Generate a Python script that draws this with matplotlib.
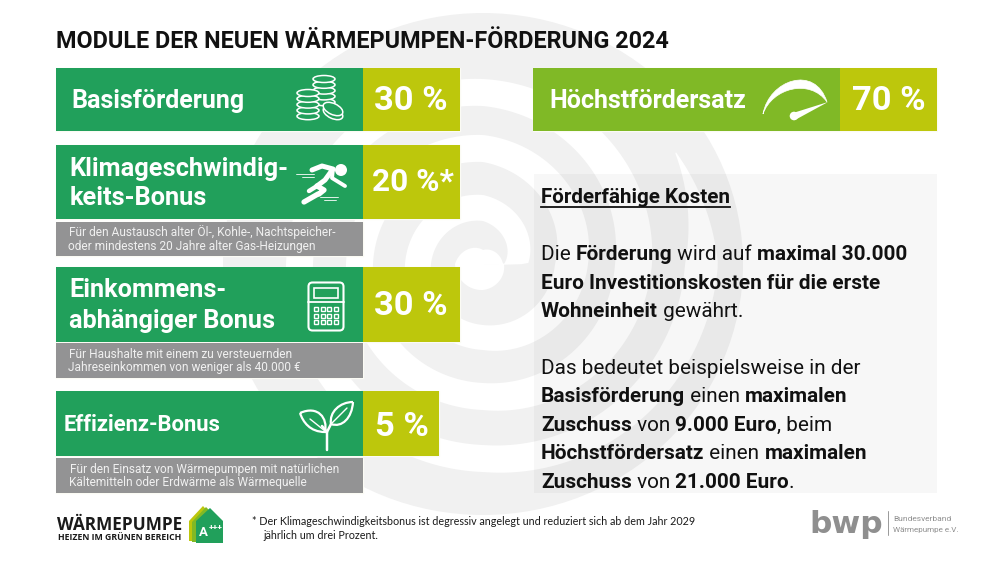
import numpy as np
import matplotlib
matplotlib.use("Agg")
import matplotlib.pyplot as plt
from matplotlib.patches import Rectangle, Circle, Ellipse, FancyBboxPatch, Polygon, PathPatch
from matplotlib.path import Path

# Texts and values
title = "MODULE DER NEUEN WÄRMEPUMPEN-FÖRDERUNG 2024"
module_labels = [["Basisförderung"],
                 ["Klimageschwindig-", "keits-Bonus"],
                 ["Einkommens-", "abhängiger Bonus"],
                 ["Effizienz-Bonus"],
                 ["Höchstfördersatz"]]
module_values = [30, 20, 30, 5, 70]
module_suffix = [" %", " %*", " %", " %", " %"]
notes = [["Für den Austausch alter Öl-, Kohle-, Nachtspeicher-", "oder mindestens 20 Jahre alter Gas-Heizungen"],
         ["Für Haushalte mit einem zu versteuernden", "Jahreseinkommen von weniger als 40.000 €"],
         ["Für den Einsatz von Wärmepumpen mit natürlichen", "Kältemitteln oder Erdwärme als Wärmequelle"]]
heading = "Förderfähige Kosten"
# (text, bold) runs per line
body = [[("Die ", 0), ("Förderung", 1), (" wird auf ", 0), ("maximal 30.000", 1)],
        [("Euro Investitionskosten für die erste", 1)],
        [("Wohneinheit", 1), (" gewährt.", 0)],
        [("Das bedeutet beispielsweise in der", 0)],
        [("Basisförderung", 1), (" einen ", 0), ("maximalen", 1)],
        [("Zuschuss", 1), (" von ", 0), ("9.000 Euro", 1), (", beim", 0)],
        [("Höchstfördersatz", 1), (" einen ", 0), ("maximalen", 1)],
        [("Zuschuss", 1), (" von ", 0), ("21.000 Euro", 1), (".", 0)]]
footnote = ["* Der Klimageschwindigkeitsbonus ist degressiv angelegt und reduziert sich ab dem Jahr 2029",
            "jährlich um drei Prozent."]

GREEN = "#21a05b"
OLIVE = "#bdc70c"
LIME = "#80b926"
GREY = "#939394"
RING = "#f1f1f1"
WHITE = "white"

plt.rcParams["font.family"] = "Roboto"

fig = plt.figure(figsize=(10, 5.62), dpi=100)
ax = fig.add_axes([0, 0, 1, 1])
ax.set_xlim(0, 1000)
ax.set_ylim(562, 0)
ax.axis("off")

# Background spiral: grey disc with a white band winding over it
cx, cy = 483, 264
ax.add_patch(Ellipse((cx, cy), 520, 502, color=RING, lw=0, zorder=0))
sp_t = [-360, -270, -180, -90, -1, 0, 90, 180, 270, 360, 450, 540, 630, 720, 810, 900, 990, 1080, 1110]
sp_in = [0, 0, 0, 0, 0, 21, 43, 52, 61, 72, 102, 110, 119, 132, 158, 170, 181, 202, 222]
sp_out = [20, 14, 28, 26, 21, 45, 69, 78, 86, 105, 129, 137, 146, 169, 185, 197, 208, 235, 223]
t = np.linspace(-360, 1110, 900)
ri = np.interp(t, sp_t, sp_in)
ro = np.interp(t, sp_t, sp_out)
a = np.radians(t)
sx = np.r_[cx + ro * np.cos(a), (cx + ri * np.cos(a))[::-1]]
sy = np.r_[cy - ro * np.sin(a), (cy - ri * np.sin(a))[::-1]]
ax.fill(sx, sy, color=WHITE, lw=0, zorder=0.5)

renderer = fig.canvas.get_renderer()


def box(x0, y0, x1, y1, color):
    # pale halo goes under all the fills so neighbours share no seam
    ax.add_patch(Rectangle((x0, y0), x1 - x0, y1 - y0, facecolor="none", edgecolor="#fbfbf4", lw=1, zorder=1.5))
    ax.add_patch(Rectangle((x0, y0), x1 - x0, y1 - y0, facecolor=color, lw=0, zorder=2))


def label(x, y, s, size, weight="bold", color=WHITE, **kw):
    return ax.text(x, y, s, fontsize=size, fontweight=weight, color=color, va="baseline", zorder=5, **kw)


# Panel on the right
ax.add_patch(Rectangle((534, 174), 403, 319, facecolor=(0, 0, 0, 0.03), lw=0, zorder=1))

label(56, 48.5, title, 16.8, color="#111111")

# Module bars
box(56, 68, 363, 131, GREEN)
box(363, 68, 460, 131, OLIVE)
box(56, 145, 363, 219, GREEN)
box(363, 145, 460, 219, OLIVE)
box(56, 267, 363, 342, GREEN)
box(363, 267, 460, 342, OLIVE)
box(56, 391, 363, 456, GREEN)
box(363, 391, 439, 456, OLIVE)
box(533, 68, 840, 131, LIME)
box(840, 68, 937, 131, OLIVE)
box(56, 222, 363, 256, GREY)
box(56, 343, 363, 378, GREY)
box(56, 458, 363, 493, GREY)

label(71, 108, module_labels[0][0], 18)
label(69, 176, module_labels[1][0], 18.3)
label(70, 205, module_labels[1][1], 18.3)
label(69, 297, module_labels[2][0], 18.2)
label(69, 328, module_labels[2][1], 18.2)
label(64, 431, module_labels[3][0], 15.8)
label(549, 108, module_labels[4][0], 18)

for (x, y), v, suf in zip([(411, 110), (413, 191), (411, 315), (402, 436), (889, 110)], module_values, module_suffix):
    label(x, y, f"{v}{suf}", 24.8 if suf == " %" else 22.7, ha="center")

for lines, ys, xs in zip(notes, [(236, 250), (358, 371), (473, 486)], [(69, 68), (69, 68), (70, 69)]):
    for s, y, x in zip(lines, ys, xs):
        label(x, y, s, 8.55, weight="normal", color="#f0f0f0")

# Text panel
t_h = label(541, 203, heading, 14.9, color="#111111")
ext = t_h.get_window_extent(renderer)
ax.plot([541, 541 + ext.width], [206.5, 206.5], color="#111111", lw=1.3, zorder=5)

body_y = [260, 289, 317, 374, 402, 431, 459, 488]
for runs, y in zip(body, body_y):
    x = 541
    for s, b in runs:
        tx = label(x, y, s, 14.95, weight="bold" if b else "normal", color="#111111")
        x += tx.get_window_extent(renderer).width


def line(xs, ys, lw=1.4, color=WHITE, z=6):
    ax.plot(xs, ys, color=color, lw=lw, solid_capstyle="round", zorder=z)


def coin_stack(x, top, n, w, h, step):
    for i in range(n - 1, -1, -1):
        ax.add_patch(Ellipse((x, top + i * step), w, h, facecolor=GREEN, edgecolor=WHITE, lw=1.1, zorder=6))


# Coins
coin_stack(324, 79, 5, 22, 7, 5.8)
coin_stack(308, 93, 5, 22, 7, 5.8)
ax.add_patch(Ellipse((333, 113), 21, 11, angle=25, facecolor=GREEN, edgecolor=WHITE, lw=1.1, zorder=6.5))
ax.add_patch(Ellipse((333, 109), 21, 11, angle=25, facecolor=GREEN, edgecolor=WHITE, lw=1.1, zorder=6.6))

# Runner
ax.add_patch(Circle((341, 170), 6, color=WHITE, lw=0, zorder=6))
line([312, 322, 333, 325, 317], [170, 166, 169, 180, 186], lw=3.6)
line([333, 332, 345], [169, 178, 186], lw=2.8)
line([317, 324, 319, 318, 304], [186, 190, 194, 194, 202], lw=3.8)
line([317, 309], [186, 191], lw=3.2)
line([296, 314], [174, 174], lw=0.6)
line([302, 314], [177, 177], lw=0.6)
line([320, 338], [197, 197], lw=0.6)
line([324, 336], [200, 200], lw=0.6)

# Calculator
ax.add_patch(FancyBboxPatch((310, 284), 32, 45, boxstyle="round,pad=1.5,rounding_size=4", facecolor="none", edgecolor=WHITE, lw=1.5, zorder=6))
ax.add_patch(Rectangle((314, 288), 24, 9.5, facecolor="none", edgecolor=WHITE, lw=1.2, zorder=6))
line([308, 344], [302, 302], lw=1.3)
for r in range(3):
    for c in range(4):
        ax.add_patch(Rectangle((314 + c * 6.6, 307 + r * 6.7), 4, 4, facecolor="none", edgecolor=WHITE, lw=1, zorder=6))

# Plant
line([327, 327, 322], [450, 432, 426], lw=1.8)
line([327, 331], [432, 424], lw=1.8)
leaf_codes = [Path.MOVETO, Path.CURVE4, Path.CURVE4, Path.CURVE4, Path.CURVE4, Path.CURVE4, Path.CURVE4]
ax.add_patch(PathPatch(Path([(300, 413), (318, 405), (328, 418), (325, 432), (310, 432), (303, 422), (300, 413)], leaf_codes),
                       facecolor="none", edgecolor=WHITE, lw=1.6, zorder=6))
ax.add_patch(PathPatch(Path([(353, 402), (352, 418), (342, 428), (331, 424), (329, 412), (340, 402), (353, 402)], leaf_codes),
                       facecolor="none", edgecolor=WHITE, lw=1.6, zorder=6))
line([310, 325], [419, 431], lw=1)
line([347, 332], [408, 423], lw=1)

# Gauge
ax.add_patch(PathPatch(Path([(763, 114), (769, 80), (815, 64), (827, 102), (810, 78), (772, 88), (763, 114)], leaf_codes),
                       facecolor=WHITE, edgecolor=WHITE, lw=0.5, zorder=6))
ax.add_patch(Circle((794, 116), 4.3, color=WHITE, lw=0, zorder=6))
ax.add_patch(Polygon([(793, 113), (828, 102), (795, 120)], color=WHITE, lw=0, zorder=6))

# Logo Waermepumpe
label(57, 530, "WÄRMEPUMPE", 12.4, color="#1a1a1a", fontfamily="Open Sans")
label(58, 540, "HEIZEN IM GRÜNEN BEREICH", 6.35, color="#1a1a1a", fontfamily="Open Sans")
ax.add_patch(Polygon([(189, 541), (189, 521), (203, 506), (212, 516), (212, 541)], color=OLIVE, lw=0, zorder=3))
ax.add_patch(Polygon([(192, 542), (192, 522), (206, 507), (216, 517), (216, 542)], color=LIME, lw=0, zorder=3.1))
ax.add_patch(Polygon([(196, 543), (196, 521), (210, 508), (223, 521), (223, 543)], color=GREEN, lw=0, zorder=3.2))
label(199, 536, "A", 9.5)
label(208.5, 530, "+++", 6)

# Footnote
label(252, 525, footnote[0], 7.75, weight="normal", color="#1a1a1a", fontfamily="Lato")
label(263, 539, footnote[1], 7.75, weight="normal", color="#1a1a1a", fontfamily="Lato")

# Logo bwp
label(809, 533, "bwp", 22.5, color="#8f8f8f", fontfamily="DejaVu Sans")
line([888, 888], [511, 535], lw=0.7, color="#999999", z=5)
label(893, 521, "Bundesverband", 6, weight="normal", color="#8f8f8f")
label(893, 532, "Wärmepumpe e.V.", 5.8, weight="normal", color="#8f8f8f")

fig.savefig("out.png", dpi=100)
